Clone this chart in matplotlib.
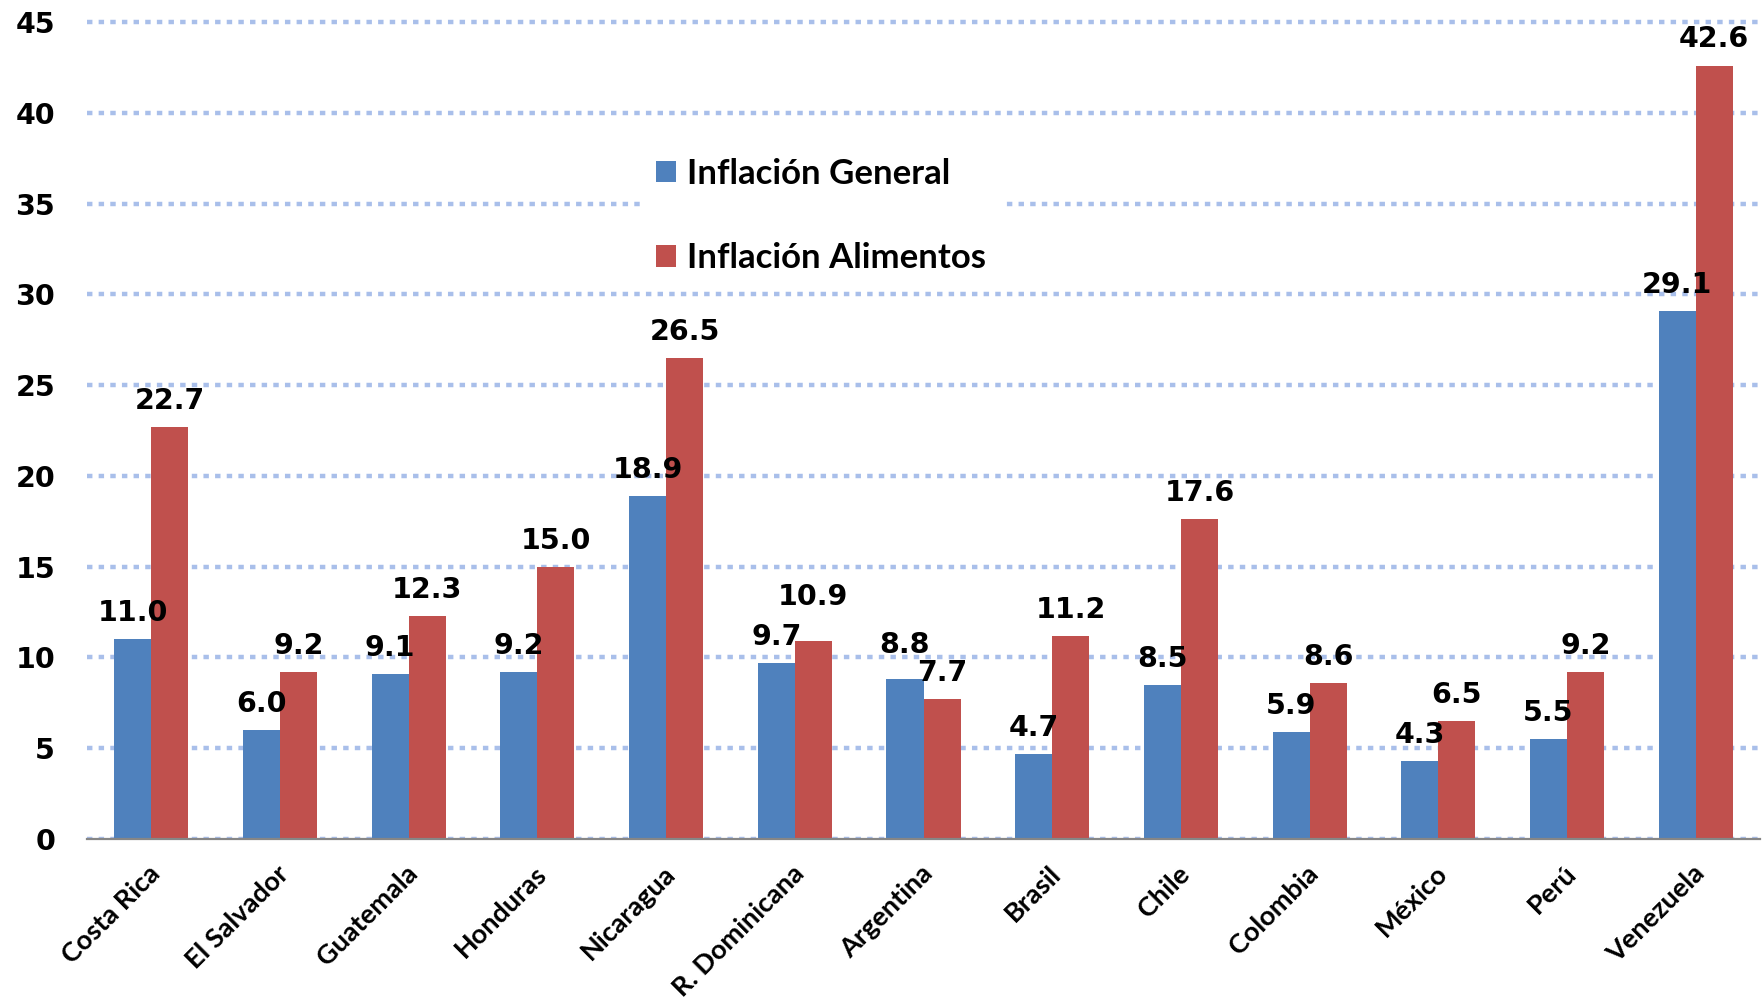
import matplotlib
matplotlib.use('Agg')
import matplotlib.pyplot as plt
import numpy as np
from matplotlib.transforms import ScaledTranslation
from matplotlib.font_manager import FontProperties

countries = ['Costa Rica', 'El Salvador', 'Guatemala', 'Honduras', 'Nicaragua',
             'R. Dominicana', 'Argentina', 'Brasil', 'Chile', 'Colombia',
             'México', 'Perú', 'Venezuela']
general = [11.0, 6.0, 9.1, 9.2, 18.9, 9.7, 8.8, 4.7, 8.5, 5.9, 4.3, 5.5, 29.1]
alimentos = [22.7, 9.2, 12.3, 15.0, 26.5, 10.9, 7.7, 11.2, 17.6, 8.6, 6.5, 9.2, 42.6]
yticks = list(range(0, 50, 5))
series_names = ['Inflación General', 'Inflación Alimentos']
# extra upward nudges (points) for labels that the original moved to avoid overlaps
extra_general = {6: 6}
extra_alimentos = {5: 13}

fig = plt.figure(figsize=(17.62, 10.05), dpi=100)
ax = fig.add_axes([0.04938, 0.16517, 0.9495, 0.8184])
x = np.arange(len(countries))
w = 0.288
b1 = ax.bar(x - w / 2, general, w, color='#4f81bd', label=series_names[0], zorder=3)
b2 = ax.bar(x + w / 2, alimentos, w, color='#c0504d', label=series_names[1], zorder=3)

ax.set_xlim(-0.5, 12.5)
ax.set_ylim(0, 45.3)
ax.set_yticks(yticks)
ax.set_yticklabels([str(v) for v in yticks], fontfamily='DejaVu Sans',
                   fontweight='bold', fontsize=20.5)
ax.tick_params(axis='y', length=0, pad=23)
ax.set_axisbelow(True)
ax.yaxis.grid(True, color='#a9bfea', linewidth=3.2, linestyle=(0, (1.22, 1.4)))
for s in ['left', 'top', 'right']:
    ax.spines[s].set_visible(False)
ax.spines['bottom'].set_color('#868686')
ax.spines['bottom'].set_linewidth(1.6)
ax.spines['bottom'].set_zorder(4)

ax.set_xticks(x)
ax.set_xticklabels(countries, rotation=45, ha='right', va='center',
                   rotation_mode='anchor', fontfamily='Lato', fontweight='bold',
                   fontsize=19.5)
ax.tick_params(axis='x', length=0, pad=22)
offset = ScaledTranslation(5 / 100, 0, fig.dpi_scale_trans)
for lbl in ax.get_xticklabels():
    lbl.set_transform(lbl.get_transform() + offset)

for bars, vals, extra in ((b1, general, extra_general), (b2, alimentos, extra_alimentos)):
    for i, (rect, v) in enumerate(zip(bars, vals)):
        ax.annotate(f'{v:.1f}', xy=(rect.get_x() + rect.get_width() / 2, rect.get_height()),
                    xytext=(0, 13 + extra.get(i, 0)), textcoords='offset points',
                    ha='center', va='baseline',
                    fontfamily='DejaVu Sans', fontweight='bold', fontsize=20.5,
                    zorder=5, annotation_clip=False)

leg = ax.legend(loc='upper left', bbox_to_anchor=(640 / 1762, 1 - 142 / 1005),
                bbox_transform=fig.transFigure,
                prop=FontProperties(family='Lato', weight='bold', size=25),
                handlelength=0.58, handleheight=0.58, handletextpad=0.32,
                labelspacing=1.52, borderpad=0.45, borderaxespad=0,
                frameon=True, fancybox=False, framealpha=1)
leg.get_frame().set_facecolor('white')
leg.get_frame().set_edgecolor('none')
leg.set_zorder(6)

fig.savefig('out.png', dpi=100)
